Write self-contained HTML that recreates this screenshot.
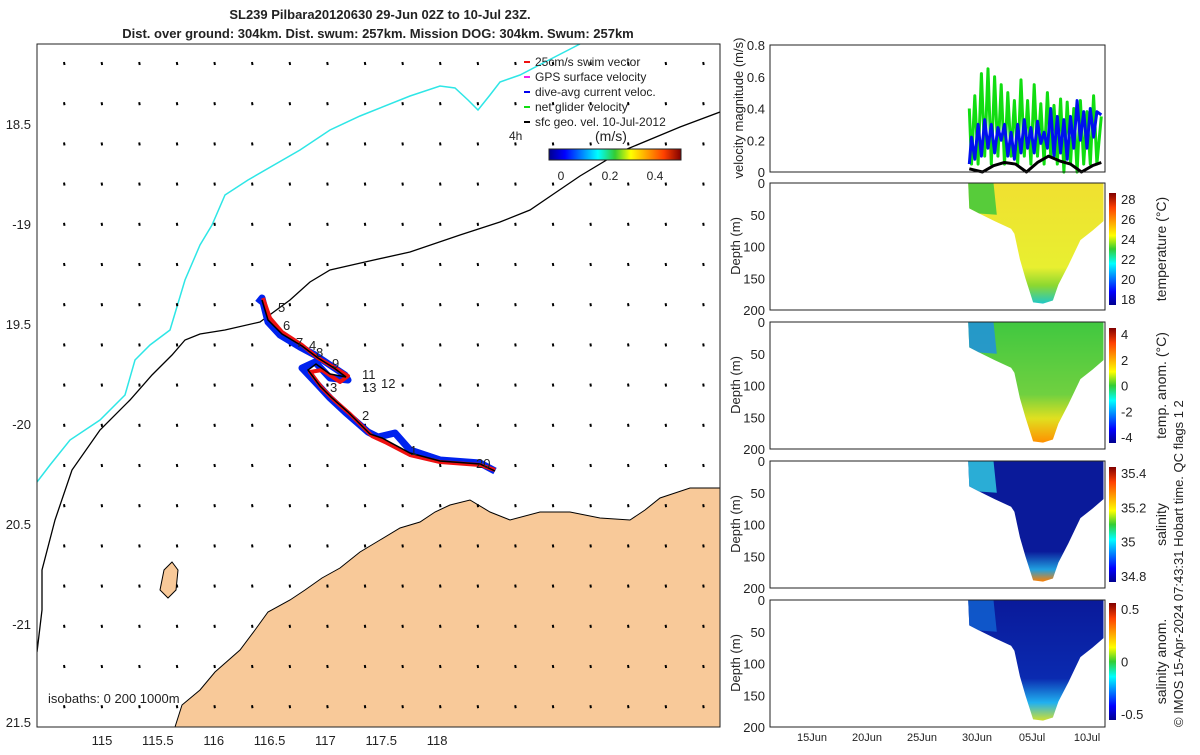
<!DOCTYPE html>
<html><head><meta charset="utf-8"><style>
body{margin:0;background:#fff;font-family:"Liberation Sans",sans-serif}
svg text{font-family:"Liberation Sans",sans-serif;fill:#222}
</style></head><body>
<svg id="s" width="1200" height="750" xmlns="http://www.w3.org/2000/svg">
<defs>
<linearGradient id="jet" x1="0" y1="1" x2="0" y2="0">
<stop offset="0" stop-color="#00008f"/><stop offset="0.12" stop-color="#0000ff"/><stop offset="0.37" stop-color="#00ffff"/><stop offset="0.5" stop-color="#33cc33"/><stop offset="0.62" stop-color="#ffff00"/><stop offset="0.87" stop-color="#ff4000"/><stop offset="1" stop-color="#800000"/></linearGradient>
<linearGradient id="jeth" x1="0" y1="0" x2="1" y2="0">
<stop offset="0" stop-color="#00008f"/><stop offset="0.12" stop-color="#0000ff"/><stop offset="0.37" stop-color="#00ffff"/><stop offset="0.5" stop-color="#33cc33"/><stop offset="0.62" stop-color="#ffff00"/><stop offset="0.87" stop-color="#ff4000"/><stop offset="1" stop-color="#800000"/></linearGradient>
<linearGradient id="gT" x1="0" y1="0" x2="0" y2="1"><stop offset="0" stop-color="#f0e030"/><stop offset="0.7" stop-color="#e8ef30"/><stop offset="0.85" stop-color="#8cd830"/><stop offset="1" stop-color="#20c8c8"/></linearGradient>
<linearGradient id="gA" x1="0" y1="0" x2="0" y2="1"><stop offset="0" stop-color="#40c840"/><stop offset="0.6" stop-color="#70d040"/><stop offset="0.8" stop-color="#e0e020"/><stop offset="1" stop-color="#ff9000"/></linearGradient>
<linearGradient id="gS" x1="0" y1="0" x2="0" y2="1"><stop offset="0" stop-color="#0a1a9a"/><stop offset="0.75" stop-color="#0a1a9a"/><stop offset="0.9" stop-color="#20a0e0"/><stop offset="1" stop-color="#ff8000"/></linearGradient>
<linearGradient id="gSA" x1="0" y1="0" x2="0" y2="1"><stop offset="0" stop-color="#0a1a9a"/><stop offset="0.65" stop-color="#0a2ab0"/><stop offset="0.85" stop-color="#20b0f0"/><stop offset="1" stop-color="#d0e030"/></linearGradient>
<clipPath id="mapclip"><rect x="37" y="44" width="683" height="683"/></clipPath>
</defs>
<text x="380" y="19" text-anchor="middle" font-size="13" font-weight="bold">SL239 Pilbara20120630 29-Jun 02Z to 10-Jul 23Z.</text>
<text x="378" y="38" text-anchor="middle" font-size="13" font-weight="bold">Dist. over ground: 304km. Dist. swum: 257km. Mission DOG: 304km. Swum: 257km</text>
<g id="map" clip-path="url(#mapclip)">
<polygon fill="#f8c999" stroke="#000" stroke-width="1" points="175,727 182,705 200,690 215,672 240,650 255,630 268,612 290,600 305,590 322,578 340,568 360,552 380,540 400,528 420,522 435,512 450,505 470,500 490,512 510,520 540,512 570,512 600,518 630,520 645,510 660,498 690,488 720,488 720,727"/>
<polygon fill="#f8c999" stroke="#000" points="164,570 172,562 178,570 176,590 168,598 160,590"/>
<polyline fill="none" stroke="#2ee6e6" stroke-width="1.5" points="37,482 50,465 70,440 100,420 125,395 135,360 150,345 170,330 185,280 200,245 212,225 225,195 248,180 300,150 330,130 360,116 410,96 440,86 455,88 468,100 478,110 490,95 500,82 520,75 545,62 580,44"/>
<polyline fill="none" stroke="#000" stroke-width="1.3" points="37,652 42,610 42,570 55,520 72,470 100,430 130,400 152,375 172,355 185,340 200,334 225,330 260,322 290,300 310,282 330,270 365,262 410,252 460,235 500,222 530,210 555,193 580,176 620,152 680,127 720,112"/>
<g id="vecs"></g>
<polyline fill="none" stroke="#0022ee" stroke-width="7" stroke-linejoin="round" points="258,303 262,298 268,322 280,335 300,347 315,355 330,365 345,375 348,380 330,378 315,362 302,368 318,385 330,398 345,412 368,432 378,437 395,433 410,450 440,460 480,463 495,471"/>
<polyline fill="none" stroke="#ee1111" stroke-width="4" stroke-linejoin="round" points="263,298 270,318 282,332 302,345 318,358 335,368 348,376 340,382 322,370 310,372 322,388 334,400 350,414 372,436 385,442 410,455 440,462 480,465 495,470"/>
<polyline fill="none" stroke="#000" stroke-width="1.5" points="262,300 268,320 282,334 302,346 318,358 334,368 346,377 330,374 316,364 308,370 320,386 332,398 348,412 370,434 382,438 410,453 440,461 480,464 495,471"/>
</g>
<rect x="37" y="44" width="683" height="683" fill="none" stroke="#222"/>
<g font-size="13">
<text x="278" y="312">5</text><text x="283" y="330">6</text><text x="296" y="347">7</text><text x="309" y="350">4</text><text x="316" y="357">8</text><text x="332" y="368">9</text><text x="362" y="379">11</text><text x="362" y="392">13</text><text x="381" y="388">12</text><text x="330" y="392">3</text><text x="362" y="420">2</text><text x="410" y="455">1</text><text x="476" y="468">20</text>
<text x="48" y="703">isobaths: 0   200  1000m</text>
</g>
<g id="maxes" font-size="13"></g>
<g font-size="12">
<line x1="524" y1="62" x2="530" y2="62" stroke="#e11" stroke-width="2"/><text x="535" y="66">25cm/s swim vector</text>
<line x1="524" y1="77" x2="530" y2="77" stroke="#e2e" stroke-width="2"/><text x="535" y="81">GPS surface velocity</text>
<line x1="524" y1="92" x2="530" y2="92" stroke="#00e" stroke-width="2"/><text x="535" y="96">dive-avg current veloc.</text>
<line x1="524" y1="107" x2="530" y2="107" stroke="#1d1" stroke-width="2"/><text x="535" y="111">net glider velocity</text>
<line x1="524" y1="122" x2="530" y2="122" stroke="#000" stroke-width="2"/><text x="535" y="126">sfc geo. vel. 10-Jul-2012</text>
<text x="509" y="140">4h</text><text x="595" y="141" font-size="14">(m/s)</text>
<rect x="549" y="149" width="132" height="11" fill="url(#jeth)" stroke="#222"/>
<text x="561" y="180" text-anchor="middle">0</text><text x="610" y="180" text-anchor="middle">0.2</text><text x="655" y="180" text-anchor="middle">0.4</text>
</g>
<g id="right" font-size="13"></g>
<text transform="translate(1183,727) rotate(-90)" font-size="13">© IMOS 15-Apr-2024 07:43:31 Hobart time. QC flags 1  2</text>
</svg>
<script>
const NS='http://www.w3.org/2000/svg';
function mk(p,t,a){const e=document.createElementNS(NS,t);for(const k in a)e.setAttribute(k,a[k]);p.appendChild(e);return e;}
const lonTicks=[115,115.5,116,116.5,117,117.5,118];
const latTicks=[18.5,19,19.5,20,20.5,21,21.5];
const latLabels=['18.5','-19','19.5','-20','20.5','-21','21.5'];
const lonX=v=>102+(v-115)*111.7, latY=v=>124+(v-18.5)*200;
const ma=document.getElementById('maxes');
lonTicks.forEach(v=>{const t=mk(ma,'text',{x:lonX(v),y:745,'text-anchor':'middle'});t.textContent=String(v);
});
latTicks.forEach((v,i)=>{const y=Math.min(latY(v),722);const t=mk(ma,'text',{x:31,y:y+5,'text-anchor':'end'});t.textContent=latLabels[i];
});
const vg=document.getElementById('vecs');
for(let x=64;x<720;x+=37.6)for(let y=62;y<727;y+=40.2){const d=mk(vg,'line',{x1:x,y1:y,x2:x+0.5,y2:y+3,stroke:'#000','stroke-width':2});
}
const R=document.getElementById('right');
const X0=770,X1=1105, dayX=d=>812+(d-15)*11;
const timeTicks=[15,20,25,30,35,40];
const timeLabels=['15Jun','20Jun','25Jun','30Jun','05Jul','10Jul'];
const velDays=[29.3,29.5,29.8,30.1,30.4,30.7,31.0,31.3,31.6,31.9,32.2,32.5,32.8,33.1,33.4,33.7,34.0,34.3,34.6,34.9,35.2,35.5,35.8,36.1,36.4,36.7,37.0,37.3,37.6,37.9,38.2,38.5,38.8,39.1,39.4,39.7,40.0,40.3,40.6,40.9,41.3];
const netVel=[0.4,0.05,0.48,0.05,0.62,0.1,0.65,0.05,0.6,0.1,0.55,0.05,0.5,0.1,0.45,0.05,0.58,0.1,0.45,0.05,0.55,0.1,0.43,0.05,0.5,0.1,0.42,0.05,0.46,0.0,0.44,0.05,0.4,0.0,0.45,0.05,0.38,0.05,0.48,0.05,0.35];
const curVel=[0.05,0.22,0.08,0.3,0.1,0.33,0.15,0.3,0.12,0.28,0.2,0.3,0.1,0.25,0.08,0.3,0.12,0.33,0.15,0.28,0.12,0.32,0.18,0.25,0.15,0.4,0.1,0.35,0.12,0.33,0.08,0.35,0.15,0.45,0.2,0.38,0.15,0.4,0.22,0.38,0.36];
const geoDays=[29.3,30.5,31.5,32.5,33.5,34.5,35.5,36.5,37.5,38.5,39.5,40.5,41.3];
const geoVel=[0.02,0.0,0.04,0.06,0.05,0.0,0.06,0.1,0.07,0.05,0.0,0.04,0.06];
function panelFrame(top,h,name){const r=mk(R,'rect',{x:X0,y:top,width:X1-X0,height:h,fill:'none',stroke:'#222'});
}
const p1T=45,p1B=172,vY=v=>p1B-v/0.8*(p1B-p1T);
function line(xs,ys,col,w,name){const l=mk(R,'polyline',{points:xs.map((d,i)=>dayX(d)+','+vY(ys[i])).join(' '),fill:'none',stroke:col,'stroke-width':w,'stroke-linejoin':'round'});
}
line(velDays,netVel,'#11dd11',3,'net-glider-velocity-line');
line(velDays,curVel,'#0011ee',3,'dive-avg-current-line');
line(geoDays,geoVel,'#000',3,'sfc-geo-velocity-line');
panelFrame(p1T,p1B-p1T,'velocity-panel');
const velTicks=[0,0.2,0.4,0.6,0.8];
velTicks.forEach(v=>{const t=mk(R,'text',{x:765,y:vY(v)+5,'text-anchor':'end'});t.textContent=String(v);
});
const yl=mk(R,'text',{transform:'translate(743,108) rotate(-90)','text-anchor':'middle'});yl.textContent='velocity magnitude (m/s)';

const secDays=[29.2,29.3,30.2,31.6,33.1,33.4,33.9,34.4,35.1,36.0,36.9,37.4,38.3,39.4,40.5,41.5];
const secDepth=[0,40,48,60,72,80,120,150,188,190,185,160,130,90,75,60];
const panels=[
 {top:183,fill:'url(#gT)',patch:'#3cc83c',ticks:['28','26','24','22','20','18'],cb:[193,305],title:'temperature (°C)',name:'temperature'},
 {top:322,fill:'url(#gA)',patch:'#2090e0',ticks:['4','2','0','-2','-4'],cb:[328,443],title:'temp. anom. (°C)',name:'temp-anomaly'},
 {top:461,fill:'url(#gS)',patch:'#30c8e0',ticks:['35.4','35.2','35','34.8'],cb:[467,582],title:'salinity',name:'salinity'},
 {top:600,fill:'url(#gSA)',patch:'#1060d0',ticks:['0.5','0','-0.5'],cb:[603,720],title:'salinity anom.',name:'salinity-anomaly'}];
const depthTicks=[0,50,100,150,200];
panels.forEach(p=>{const H=127,dY=d=>p.top+d*H/200;
 const pts=[[dayX(29.2),p.top]].concat(secDays.slice(1).map((d,i)=>[dayX(d),dY(secDepth[i+1])])).concat([[dayX(41.5),p.top]]);
 const pg=mk(R,'polygon',{points:pts.map(a=>a.join(',')).join(' '),fill:p.fill});
 
 const pa=mk(R,'polygon',{points:[[dayX(29.2),p.top],[dayX(31.5),p.top],[dayX(31.8),dY(50)],[dayX(30.2),dY(48)],[dayX(29.3),dY(40)]].map(a=>a.join(',')).join(' '),fill:p.patch,opacity:0.85});
 
 panelFrame(p.top,H,p.name+'-panel');
 depthTicks.forEach(d=>{const t=mk(R,'text',{x:765,y:dY(d)+5,'text-anchor':'end'});t.textContent=String(d);
 });
 const a=mk(R,'text',{transform:`translate(740,${p.top+63}) rotate(-90)`,'text-anchor':'middle'});a.textContent='Depth (m)';
 
 const cb=mk(R,'rect',{x:1109,y:p.cb[0],width:7,height:p.cb[1]-p.cb[0],fill:'url(#jet)'});
 
 const n=p.ticks.length,span=p.cb[1]-p.cb[0];
 p.ticks.forEach((tk,i)=>{const y=p.cb[0]+6+i*(span-12)/(n-1);const t=mk(R,'text',{x:1121,y:y+5,'font-size':13});t.textContent=tk;
 });
 const ct=mk(R,'text',{transform:`translate(1166,${(p.cb[0]+p.cb[1])/2}) rotate(-90)`,'text-anchor':'middle','font-size':14});ct.textContent=p.title;
 
});
timeTicks.forEach((d,i)=>{const t=mk(R,'text',{x:dayX(d),y:741,'text-anchor':'middle','font-size':11});t.textContent=timeLabels[i];
});
</script>
</body></html>
